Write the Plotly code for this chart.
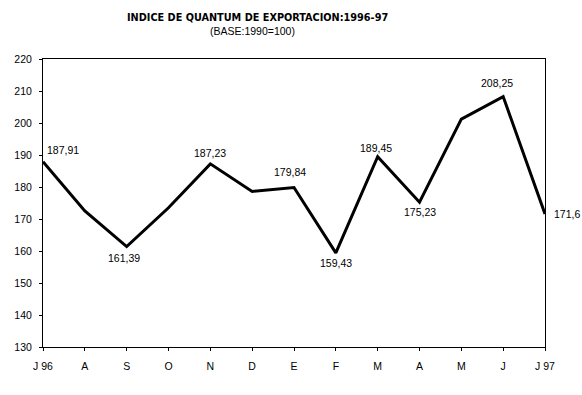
import plotly.graph_objects as go

months = ["J 96", "A", "S", "O", "N", "D", "E", "F", "M", "A", "M", "J", "J 97"]
values = [187.91, 172.5, 161.39, 173.5, 187.23, 178.6, 179.84, 159.43, 189.45, 175.23, 201.2, 208.25, 171.6]
labeled = [True, False, True, False, True, False, True, True, True, True, False, True, True]
# label offsets in pixels (dx, dy) relative to each point; dy positive = upward
label_shift = [(20, 12), (0, 0), (-3, -11), (0, 0), (0, 11), (0, 0),
               (-4, 16), (0, -10), (-2, 9), (0, -10), (0, 0), (-6, 14), (22, 0)]
y_ticks = [130, 140, 150, 160, 170, 180, 190, 200, 210, 220]

xs = list(range(len(months)))

W, H = 582, 395
ML, MR, MT, MB = 43, 37, 59, 48
FONT = "Liberation Sans, Arial"

fig = go.Figure()
fig.add_trace(go.Scatter(
    x=xs, y=values, mode="lines",
    line=dict(color="black", width=3),
    cliponaxis=False, showlegend=False, hoverinfo="skip",
))

for x, v, show, (dx, dy) in zip(xs, values, labeled, label_shift):
    if show:
        fig.add_annotation(x=x, y=v, text=str(v).replace(".", ","), showarrow=False,
                           xshift=dx, yshift=dy, xanchor="center", yanchor="middle",
                           font=dict(family=FONT, size=10.5, color="black"))

fig.update_layout(
    width=W, height=H,
    margin=dict(l=ML, r=MR, t=MT, b=MB),
    paper_bgcolor="white", plot_bgcolor="white",
    font=dict(family=FONT, size=10.5, color="black"),
    xaxis=dict(tickmode="array", tickvals=xs, ticktext=months,
               range=[0, 12], showgrid=False, zeroline=False,
               showline=True, linecolor="black", linewidth=1, mirror=True,
               ticks="outside", ticklen=3, tickcolor="black", ticklabelstandoff=6,
               tickfont=dict(size=10.5)),
    yaxis=dict(tickmode="array", tickvals=y_ticks, range=[130, 220],
               showgrid=False, zeroline=False,
               showline=True, linecolor="black", linewidth=1, mirror=True,
               ticks="outside", ticklen=3, tickcolor="black", ticklabelstandoff=5,
               tickfont=dict(size=10.5)),
)

pw, ph = W - ML - MR, H - MT - MB
def px(x, y):
    return (x - ML) / pw, (H - y - MB) / ph

tx, ty = px(257, 17.5)
sx, sy = px(252, 31)
fig.add_annotation(text="<b>INDICE DE QUANTUM DE EXPORTACION:1996-97</b>", x=tx, y=ty,
                   xref="paper", yref="paper", showarrow=False, xanchor="center", yanchor="middle",
                   font=dict(family="DejaVu Sans Condensed, Liberation Sans", size=10.8))
fig.add_annotation(text="(BASE:1990=100)", x=sx, y=sy, xref="paper", yref="paper", showarrow=False,
                   xanchor="center", yanchor="middle",
                   font=dict(family=FONT, size=10.5))

fig.write_html("out.html", config={"displayModeBar": False},
               post_script="document.body.style.margin='0px';")
